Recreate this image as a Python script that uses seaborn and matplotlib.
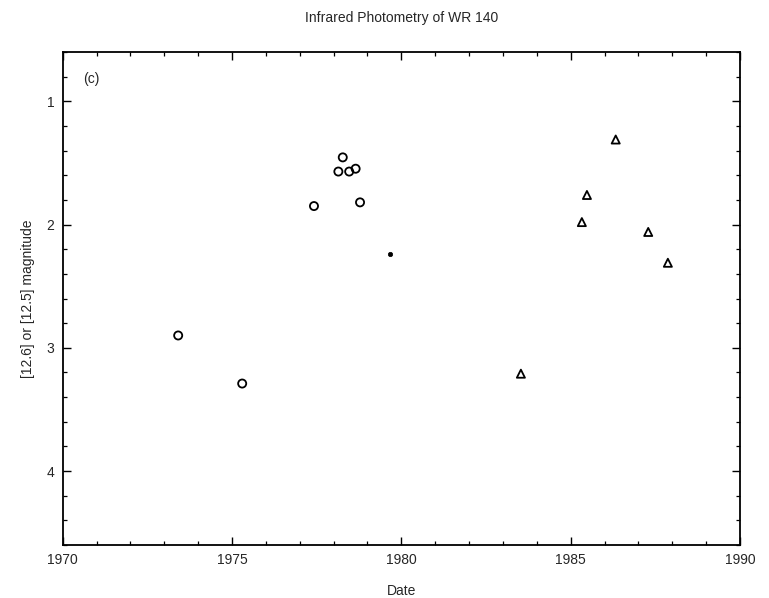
import matplotlib
matplotlib.use("Agg")
import matplotlib.pyplot as plt
import seaborn as sns
import pandas as pd
from matplotlib.ticker import MultipleLocator

# Data
circle_dates = [1973.41, 1975.30, 1977.42, 1978.14, 1978.27, 1978.46, 1978.65, 1978.78]
circle_mags = [2.90, 3.29, 1.85, 1.57, 1.455, 1.57, 1.547, 1.82]

dot_dates = [1979.67]
dot_mags = [2.24]

tri_dates = [1983.53, 1985.33, 1985.48, 1986.33, 1987.29, 1987.87]
tri_mags = [3.21, 1.98, 1.76, 1.31, 2.06, 2.31]

x_ticks = [1970, 1975, 1980, 1985, 1990]
y_ticks = [1, 2, 3, 4]

sns.set_style("ticks")
plt.rcParams['font.family'] = ['Liberation Sans', 'DejaVu Sans']

fig = plt.figure(figsize=(7.69, 5.98), dpi=100)
ax = fig.add_axes([62.7/769, 1 - 545/598, (740 - 62.7)/769, (545 - 52)/598])

df_c = pd.DataFrame({"Date": circle_dates, "mag": circle_mags})
df_d = pd.DataFrame({"Date": dot_dates, "mag": dot_mags})
df_t = pd.DataFrame({"Date": tri_dates, "mag": tri_mags})

sns.scatterplot(data=df_c, x="Date", y="mag", ax=ax, marker="o", s=34,
                facecolor="none", edgecolor="black", linewidth=1.3, legend=False)
sns.scatterplot(data=df_d, x="Date", y="mag", ax=ax, marker="o", s=10,
                color="black", edgecolor="black", linewidth=0.5, legend=False)
sns.scatterplot(data=df_t, x="Date", y="mag", ax=ax, marker="^", s=34,
                facecolor="none", edgecolor="black", linewidth=1.3, legend=False)

ax.set_xlim(1970, 1990)
ax.set_ylim(4.6, 0.6)
ax.set_xticks(x_ticks)
ax.set_yticks(y_ticks)
ax.xaxis.set_minor_locator(MultipleLocator(1))
ax.yaxis.set_minor_locator(MultipleLocator(0.2))
ax.tick_params(which="both", direction="in", top=True, right=True, color="black")
ax.tick_params(which="major", length=6, width=1.0, labelsize=10, pad=6)
ax.tick_params(which="minor", length=3, width=0.9)
for sp in ax.spines.values():
    sp.set_visible(True)
    sp.set_linewidth(1.3)
    sp.set_color("black")

ax.set_xlabel("Date", fontsize=10, labelpad=12)
ax.set_ylabel("[12.6] or [12.5] magnitude", fontsize=10, labelpad=8)
fig.text(0.522, 1 - 18/598, "Infrared Photometry of WR 140", ha="center", va="center", fontsize=10)
ax.text(1970.6, 0.82, "(c)", fontsize=10, ha="left", va="center")

fig.savefig("out.png", dpi=100, facecolor="white")
